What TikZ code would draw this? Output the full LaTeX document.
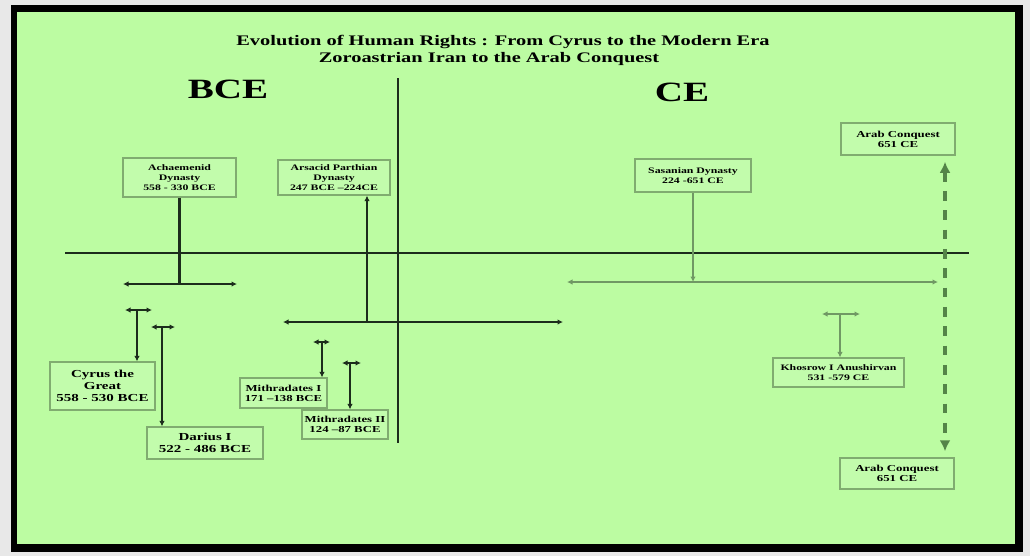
\documentclass[tikz,border=0pt]{standalone}
\usepackage{fontspec}
\newfontfamily\tlfont{Liberation Serif}[FakeStretch=1.4]
\usetikzlibrary{arrows.meta,positioning}
\usepackage{xcolor}
\definecolor{paper}{RGB}{232,232,232}
\definecolor{bggreen}{RGB}{188,252,162}
\definecolor{boxfill}{RGB}{194,252,172}
\definecolor{boxline}{RGB}{128,172,112}
\definecolor{inkline}{RGB}{28,44,28}
\definecolor{celine}{RGB}{112,152,100}
\definecolor{dashgreen}{RGB}{84,132,72}

\begin{document}
\begin{tikzpicture}[
  x=0.02cm, y=-0.02cm,
  box/.style={rectangle, draw=boxline, line width=0.7pt, fill=boxfill, inner sep=0pt, align=center, font=\tlfont\bfseries\fontsize{4.8}{5.6}\selectfont},
  bigbox/.style={box, font=\tlfont\bfseries\fontsize{6.1}{6.8}\selectfont},
  midbox/.style={box, font=\tlfont\bfseries\fontsize{5.2}{5.8}\selectfont},
  era/.style={font=\tlfont\bfseries\fontsize{15.9}{18}\selectfont},
  heading/.style={font=\tlfont\bfseries\fontsize{8.3}{9.7}\selectfont},
  bce/.style={draw=inkline, line width=1.2pt},
  ce/.style={draw=celine, line width=0.7pt},
  conquest/.style={draw=dashgreen, line width=2pt, dash pattern=on 5.6pt off 5.4pt},
  >={Latex[length=1.1mm,width=1.1mm]}
]

% --- Marco ---
\useasboundingbox (0,0) rectangle (1030,556);
\fill[paper] (0,0) rectangle (1030,556);
\fill[black] (11,5) rectangle (1023,552);
\fill[bggreen] (17,12) rectangle (1015,544);

% --- Titulos ---
\node[heading] (title1) at (503,42) {Evolution of Human Rights : From Cyrus to the Modern Era};
\node[heading] (title2) at (489,59) {Zoroastrian Iran to the Arab Conquest};
\node[era] (bcelab) at (228,89.5) {BCE};
\node[era] (celab) at (682,92) {CE};

% --- Ejes ---
\coordinate (axisW) at (65,253);
\coordinate (axisE) at (969,253);
\coordinate (divN) at (398,78);
\coordinate (divS) at (398,443);
\draw[bce, line width=1.3pt] (axisW) -- (axisE);
\draw[bce] (divN) -- (divS);

% --- Nodos ---
\node[box, minimum width=2.26cm, minimum height=0.78cm] (ach) at (179.5,177.5) {Achaemenid\\Dynasty\\558 - 330 BCE};
\node[box, minimum width=2.24cm, minimum height=0.70cm] (par) at (334,177.5) {Arsacid Parthian\\Dynasty\\247 BCE –224CE};
\node[bigbox, minimum width=2.10cm, minimum height=0.96cm] (cyrus) at (102.5,386) {Cyrus the\\Great\\558 - 530 BCE};
\node[bigbox, font=\tlfont\bfseries\fontsize{6.1}{7}\selectfont, minimum width=2.32cm, minimum height=0.64cm] (darius) at (205,443) {Darius I\\522 - 486 BCE};
\node[midbox, minimum width=1.74cm, minimum height=0.60cm] (mith1) at (283.5,393) {Mithradates I\\171 –138 BCE};
\node[midbox, minimum width=1.72cm, minimum height=0.58cm] (mith2) at (345,424.5) {Mithradates II\\124 –87 BCE};
\node[box, minimum width=2.32cm, minimum height=0.66cm] (sas) at (693,175.5) {Sasanian Dynasty\\224 -651 CE};
\node[box, minimum width=2.62cm, minimum height=0.58cm] (khos) at (838.5,372.5) {Khosrow I Anushirvan\\531 -579 CE};
\node[midbox, minimum width=2.28cm, minimum height=0.64cm] (arabtop) at (898,139) {Arab Conquest\\651 CE};
\node[midbox, minimum width=2.28cm, minimum height=0.62cm] (arabbot) at (897,473.5) {Arab Conquest\\651 CE};

% --- Periodos ---
\coordinate (achL) at (123,284);  \coordinate (achR) at (237,284);
\coordinate (parL) at (283,322);  \coordinate (parR) at (563,322);
\coordinate (parfoot) at (367,322);
\coordinate (cyrL) at (125,310);  \coordinate (cyrR) at (152,310);
\coordinate (cyrfoot) at (137,310);
\coordinate (darL) at (151,327);  \coordinate (darR) at (175,327);
\coordinate (darfoot) at (162,327);
\coordinate (mi1L) at (313,342);  \coordinate (mi1R) at (330,342);
\coordinate (mi1foot) at (322,342);
\coordinate (mi2L) at (342,363);  \coordinate (mi2R) at (361,363);
\coordinate (mi2foot) at (350,363);
\coordinate (sasL) at (567,282);  \coordinate (sasR) at (938,282);
\coordinate (khoL) at (822,314);  \coordinate (khoR) at (860,314);
\coordinate (khofoot) at (840,314);
\coordinate (dashx) at (945,0);

% --- Flujo ---
\draw[bce, <->] (achL) -- (achR);
\draw[bce, line width=1.4pt] (ach.south) -- (ach.south |- achL);
\draw[bce, <->] (parL) -- (parR);
\draw[bce, ->] (parfoot) -- (parfoot |- par.south);
\draw[bce, line width=0.8pt, <->] (cyrL) -- (cyrR);
\draw[bce, line width=0.8pt, ->] (cyrfoot) -- (cyrfoot |- cyrus.north);
\draw[bce, line width=0.8pt, <->] (darL) -- (darR);
\draw[bce, line width=0.8pt, ->] (darfoot) -- (darfoot |- darius.north);
\draw[bce, line width=0.8pt, <->] (mi1L) -- (mi1R);
\draw[bce, line width=1.4pt, ->] (mi1foot) -- (mi1foot |- mith1.north);
\draw[bce, line width=0.8pt, <->] (mi2L) -- (mi2R);
\draw[bce, line width=1.4pt, ->] (mi2foot) -- (mi2foot |- mith2.north);
\draw[ce, <->] (sasL) -- (sasR);
\draw[ce, ->] (sas.south) -- (sas.south |- sasL);
\draw[ce, <->] (khoL) -- (khoR);
\draw[ce, ->] (khofoot) -- (khofoot |- khos.north);
\draw[conquest, <->, >={Latex[length=2.2mm,width=2.2mm]}, shorten <=3.5pt, shorten >=3.5pt] (arabtop.south -| dashx) -- (arabbot.north -| dashx);

\end{tikzpicture}
\end{document}
